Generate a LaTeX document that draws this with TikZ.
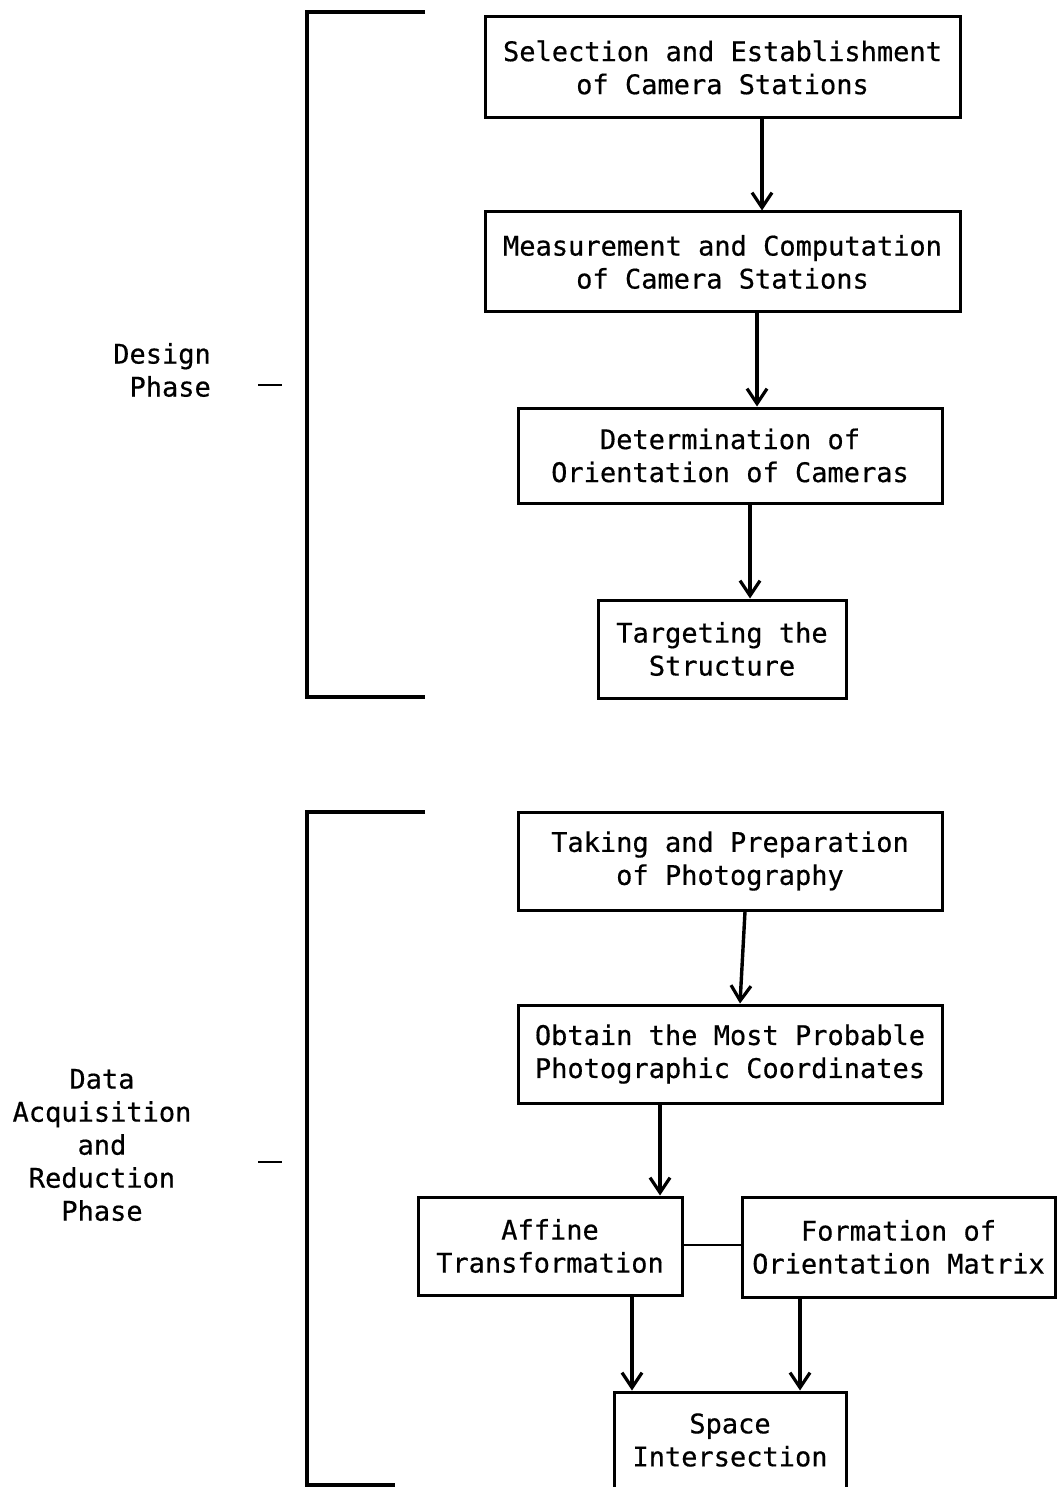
\documentclass[tikz,border=0pt]{standalone}
\usepackage{fontspec}
\setmainfont[FakeBold=0.5]{DejaVu Sans Mono}
\usetikzlibrary{arrows.meta}
\begin{document}
\begin{tikzpicture}[x=1pt,y=-1pt,
  every node/.style={font=\fontsize{27}{33}\selectfont},
  box/.style={draw,line width=3pt,align=center,inner sep=0pt,anchor=center},
  arr/.style={line width=3.4pt,-{Straight Barb[length=15pt,width=20pt,line width=3.2pt]}},
  brk/.style={line width=3.8pt},
  lnk/.style={line width=2.8pt}]
\useasboundingbox (0,0) rectangle (1057,1487);
% boxes
\node[box,minimum width=475,minimum height=101] (sel) at (722.5,67.5) {Selection and Establishment\\of Camera Stations};
\node[box,minimum width=475,minimum height=100] (meas) at (722.5,262) {Measurement and Computation\\of Camera Stations};
\node[box,minimum width=424,minimum height=95] (det) at (730,455.5) {Determination of\\Orientation of Cameras};
\node[box,minimum width=248,minimum height=98] (targ) at (722,649) {Targeting the\\Structure};
\node[box,minimum width=424,minimum height=98] (take) at (730,861) {Taking and Preparation\\of Photography};
\node[box,minimum width=424,minimum height=98] (obt) at (730,1054) {Obtain the Most Probable\\Photographic Coordinates};
\node[box,minimum width=264,minimum height=98] (aff) at (550,1246) {Affine\\Transformation};
\node[box,minimum width=313,minimum height=100] (form) at (898.5,1247) {Formation of\\Orientation Matrix};
\node[box,minimum width=232,minimum height=96] (space) at (730,1440) {Space\\Intersection};
% arrows
\draw[arr] (762,0 |- sel.south) -- (762,0 |- meas.north);
\draw[arr] (757,0 |- meas.south) -- (757,0 |- det.north);
\draw[arr] (750,0 |- det.south) -- (750,0 |- targ.north);
\draw[arr] (745,0 |- take.south) -- (740,0 |- obt.north);
\draw[arr] (660,0 |- obt.south) -- (660,0 |- aff.north);
\draw[arr] (632,0 |- aff.south) -- (632,0 |- space.north);
\draw[arr] (800,0 |- form.south) -- (800,0 |- space.north);
\draw[lnk] (aff.east |- 0,1245) -- (form.west |- 0,1245);
% brackets
\coordinate (b1t) at (425,12);
\coordinate (b1b) at (425,697);
\draw[brk] (b1t) -- (307,12) -- (307,697) -- (b1b);
\coordinate (b2t) at (425,812);
\coordinate (b2b) at (395,1485);
\draw[brk] (b2t) -- (307,812) -- (307,1485) -- (b2b);
% phase labels
\node[align=right,anchor=east,inner sep=0pt] (design) at (211,370) {Design\\Phase};
\node[align=center,inner sep=0pt] (data) at (102,1145) {Data\\Acquisition\\and\\Reduction\\Phase};
\coordinate (d1a) at (258,385);
\coordinate (d1b) at (282,385);
\draw[lnk] (d1a) -- (d1b);
\coordinate (d2a) at (258,1162);
\coordinate (d2b) at (282,1162);
\draw[lnk] (d2a) -- (d2b);
\end{tikzpicture}
\end{document}
